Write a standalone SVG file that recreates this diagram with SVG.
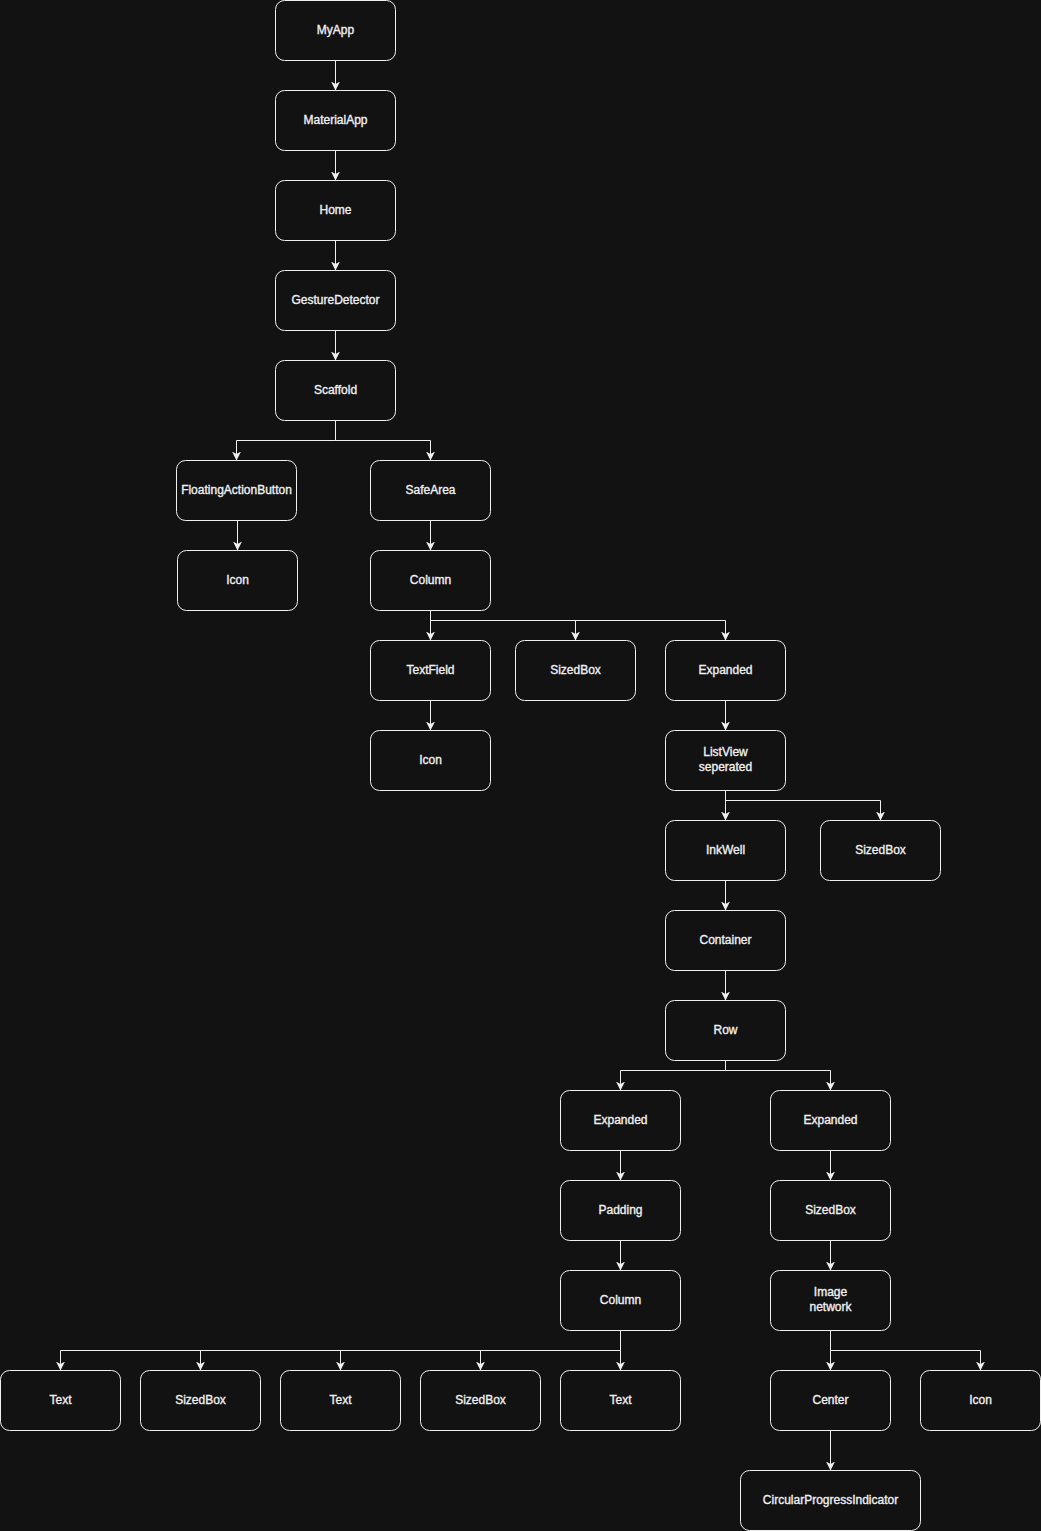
<svg xmlns="http://www.w3.org/2000/svg" width="1041" height="1531" viewBox="0 0 1041 1531">
<style>
.bg{fill:#121212}
.n rect{fill:#121212;stroke:#f0f0f0;stroke-width:1}
.n text{fill:#f0f0f0;stroke:#f0f0f0;stroke-width:0.35;font-family:"Liberation Sans",Arial,sans-serif;font-size:12px;text-anchor:middle;dominant-baseline:central}
.e path{fill:none;stroke:#f0f0f0;stroke-width:1;marker-end:url(#arr)}
</style>
<defs>
<marker id="arr" markerUnits="userSpaceOnUse" markerWidth="12" markerHeight="12" refX="9" refY="4.5" orient="auto">
<path d="M0,0 L9,4.5 L0,9 L2.5,4.5 Z" fill="#f0f0f0"/>
</marker>
</defs>
<rect class="bg" x="0" y="0" width="1041" height="1531"/>
<g id="connectors" class="e">
<path d="M335.5 60.5 V90.5"/>
<path d="M335.5 150.5 V180.5"/>
<path d="M335.5 240.5 V270.5"/>
<path d="M335.5 330.5 V360.5"/>
<path d="M335.5 420.5 V440.5 H236.5 V460.5"/>
<path d="M335.5 420.5 V440.5 H430.5 V460.5"/>
<path d="M237.5 520.5 V550.5"/>
<path d="M430.5 520.5 V550.5"/>
<path d="M430.5 610.5 V640.5"/>
<path d="M430.5 610.5 V620.5 H575.5 V640.5"/>
<path d="M430.5 610.5 V620.5 H725.5 V640.5"/>
<path d="M430.5 700.5 V730.5"/>
<path d="M725.5 700.5 V730.5"/>
<path d="M725.5 790.5 V820.5"/>
<path d="M725.5 790.5 V800.5 H880.5 V820.5"/>
<path d="M725.5 880.5 V910.5"/>
<path d="M725.5 970.5 V1000.5"/>
<path d="M725.5 1060.5 V1070.5 H620.5 V1090.5"/>
<path d="M725.5 1060.5 V1070.5 H830.5 V1090.5"/>
<path d="M620.5 1150.5 V1180.5"/>
<path d="M830.5 1150.5 V1180.5"/>
<path d="M620.5 1240.5 V1270.5"/>
<path d="M830.5 1240.5 V1270.5"/>
<path d="M620.5 1330.5 V1350.5 H60.5 V1370.5"/>
<path d="M620.5 1330.5 V1350.5 H200.5 V1370.5"/>
<path d="M620.5 1330.5 V1350.5 H340.5 V1370.5"/>
<path d="M620.5 1330.5 V1350.5 H480.5 V1370.5"/>
<path d="M620.5 1330.5 V1370.5"/>
<path d="M830.5 1330.5 V1370.5"/>
<path d="M830.5 1330.5 V1350.5 H980.5 V1370.5"/>
<path d="M830.5 1430.5 V1470.5"/>
</g>
<g id="n-myapp" class="n"><rect x="275.5" y="0.5" width="120" height="60" rx="9"/><text x="335.5" y="29.5">MyApp</text></g>
<g id="n-materialapp" class="n"><rect x="275.5" y="90.5" width="120" height="60" rx="9"/><text x="335.5" y="119.5">MaterialApp</text></g>
<g id="n-home" class="n"><rect x="275.5" y="180.5" width="120" height="60" rx="9"/><text x="335.5" y="209.5">Home</text></g>
<g id="n-gesture" class="n"><rect x="275.5" y="270.5" width="120" height="60" rx="9"/><text x="335.5" y="299.5">GestureDetector</text></g>
<g id="n-scaffold" class="n"><rect x="275.5" y="360.5" width="120" height="60" rx="9"/><text x="335.5" y="389.5">Scaffold</text></g>
<g id="n-fab" class="n"><rect x="176.5" y="460.5" width="120" height="60" rx="9"/><text x="236.5" y="489.5">FloatingActionButton</text></g>
<g id="n-safearea" class="n"><rect x="370.5" y="460.5" width="120" height="60" rx="9"/><text x="430.5" y="489.5">SafeArea</text></g>
<g id="n-icon1" class="n"><rect x="177.5" y="550.5" width="120" height="60" rx="9"/><text x="237.5" y="579.5">Icon</text></g>
<g id="n-column1" class="n"><rect x="370.5" y="550.5" width="120" height="60" rx="9"/><text x="430.5" y="579.5">Column</text></g>
<g id="n-textfield" class="n"><rect x="370.5" y="640.5" width="120" height="60" rx="9"/><text x="430.5" y="669.5">TextField</text></g>
<g id="n-sizedbox1" class="n"><rect x="515.5" y="640.5" width="120" height="60" rx="9"/><text x="575.5" y="669.5">SizedBox</text></g>
<g id="n-expanded1" class="n"><rect x="665.5" y="640.5" width="120" height="60" rx="9"/><text x="725.5" y="669.5">Expanded</text></g>
<g id="n-icon2" class="n"><rect x="370.5" y="730.5" width="120" height="60" rx="9"/><text x="430.5" y="759.5">Icon</text></g>
<g id="n-listview" class="n"><rect x="665.5" y="730.5" width="120" height="60" rx="9"/><text x="725.5" y="752">ListView</text><text x="725.5" y="767">seperated</text></g>
<g id="n-inkwell" class="n"><rect x="665.5" y="820.5" width="120" height="60" rx="9"/><text x="725.5" y="849.5">InkWell</text></g>
<g id="n-sizedbox2" class="n"><rect x="820.5" y="820.5" width="120" height="60" rx="9"/><text x="880.5" y="849.5">SizedBox</text></g>
<g id="n-container" class="n"><rect x="665.5" y="910.5" width="120" height="60" rx="9"/><text x="725.5" y="939.5">Container</text></g>
<g id="n-row" class="n"><rect x="665.5" y="1000.5" width="120" height="60" rx="9"/><text x="725.5" y="1029.5">Row</text></g>
<g id="n-expanded2" class="n"><rect x="560.5" y="1090.5" width="120" height="60" rx="9"/><text x="620.5" y="1119.5">Expanded</text></g>
<g id="n-expanded3" class="n"><rect x="770.5" y="1090.5" width="120" height="60" rx="9"/><text x="830.5" y="1119.5">Expanded</text></g>
<g id="n-padding" class="n"><rect x="560.5" y="1180.5" width="120" height="60" rx="9"/><text x="620.5" y="1209.5">Padding</text></g>
<g id="n-sizedbox3" class="n"><rect x="770.5" y="1180.5" width="120" height="60" rx="9"/><text x="830.5" y="1209.5">SizedBox</text></g>
<g id="n-column2" class="n"><rect x="560.5" y="1270.5" width="120" height="60" rx="9"/><text x="620.5" y="1299.5">Column</text></g>
<g id="n-image" class="n"><rect x="770.5" y="1270.5" width="120" height="60" rx="9"/><text x="830.5" y="1292">Image</text><text x="830.5" y="1307">network</text></g>
<g id="n-text1" class="n"><rect x="0.5" y="1370.5" width="120" height="60" rx="9"/><text x="60.5" y="1399.5">Text</text></g>
<g id="n-sizedbox4" class="n"><rect x="140.5" y="1370.5" width="120" height="60" rx="9"/><text x="200.5" y="1399.5">SizedBox</text></g>
<g id="n-text2" class="n"><rect x="280.5" y="1370.5" width="120" height="60" rx="9"/><text x="340.5" y="1399.5">Text</text></g>
<g id="n-sizedbox5" class="n"><rect x="420.5" y="1370.5" width="120" height="60" rx="9"/><text x="480.5" y="1399.5">SizedBox</text></g>
<g id="n-text3" class="n"><rect x="560.5" y="1370.5" width="120" height="60" rx="9"/><text x="620.5" y="1399.5">Text</text></g>
<g id="n-center" class="n"><rect x="770.5" y="1370.5" width="120" height="60" rx="9"/><text x="830.5" y="1399.5">Center</text></g>
<g id="n-icon3" class="n"><rect x="920.5" y="1370.5" width="120" height="60" rx="9"/><text x="980.5" y="1399.5">Icon</text></g>
<g id="n-cpi" class="n"><rect x="740.5" y="1470.5" width="180" height="60" rx="9"/><text x="830.5" y="1499.5">CircularProgressIndicator</text></g>
</svg>
